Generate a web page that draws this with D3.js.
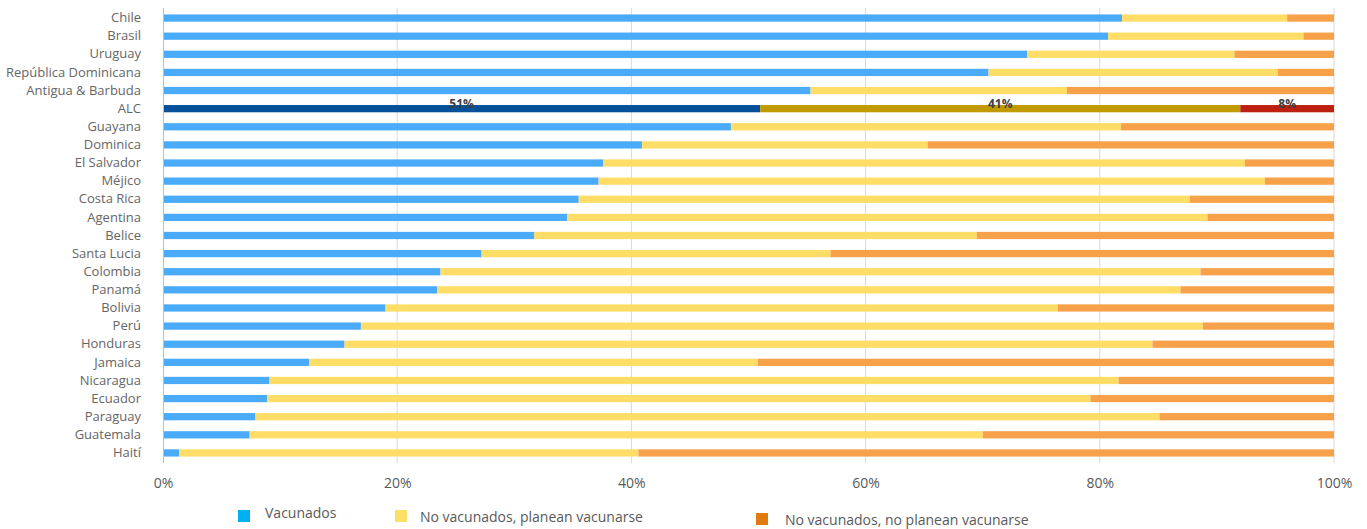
<!DOCTYPE html>
<html><head><meta charset="utf-8">
<script src="https://cdn.jsdelivr.net/npm/d3@7"></script>
<style>body{margin:0;background:#fff;} text{font-family:"Open Sans","Noto Sans",sans-serif;}</style>
</head><body><svg id="c" width="1367" height="529"></svg>
<script>
const countries = ["Chile","Brasil","Uruguay","República Dominicana","Antigua & Barbuda","ALC","Guayana","Dominica","El Salvador","Méjico","Costa Rica","Agentina","Belice","Santa Lucia","Colombia","Panamá","Bolivia","Perú","Honduras","Jamaica","Nicaragua","Ecuador","Paraguay","Guatemala","Haití"];
const vacunados = [81.9,80.7,73.8,70.5,55.3,51,48.5,40.9,37.6,37.2,35.5,34.5,31.7,27.2,23.7,23.4,19.0,16.9,15.5,12.5,9.1,8.9,7.9,7.4,1.4];
const planean = [14.1,16.7,17.7,24.7,21.9,41,33.3,24.4,54.8,56.9,52.2,54.7,37.8,29.8,64.9,63.5,57.4,71.9,69.0,38.3,72.5,70.3,77.2,62.6,39.2];
const noPlanean = vacunados.map((v,i)=>+(100-v-planean[i]).toFixed(1));
const xTicks = [0,20,40,60,80,100];
const seriesNames = ["Vacunados","No vacunados, planean vacunarse","No vacunados, no planean vacunarse"];
const colors = ["#4AABFB","#FFDD66","#F7A24A"];
const alcColors = ["#06509A","#C19A00","#BD1F10"];
const legendColors = ["#00B0F0","#FFE066","#E07B10"];

const svg = d3.select("#c");
const x = d3.scaleLinear().domain([0,100]).range([163,1334]);
const y = d3.scaleBand().domain(countries).range([9,462]).paddingInner(0.6).paddingOuter(0.3);

// gridlines
svg.append("g").selectAll("line").data(xTicks.slice(1)).join("line")
  .attr("x1",d=>x(d)).attr("x2",d=>x(d)).attr("y1",8).attr("y2",463)
  .attr("stroke","#D9D9D9").attr("stroke-width",1);

const stackData = countries.map((c,i)=>({c, v:[vacunados[i],planean[i],noPlanean[i]]}));
const g = svg.append("g");
stackData.forEach((d,i)=>{
  let acc=0;
  d.v.forEach((val,k)=>{
    g.append("rect").attr("x",x(acc)).attr("width",x(acc+val)-x(acc))
     .attr("y",y(d.c)).attr("height",y.bandwidth())
     .attr("fill", d.c==="ALC"?alcColors[k]:colors[k]);
    if(d.c==="ALC"){
      g.append("text").attr("x",x(acc+val/2)).attr("y",y(d.c)+3)
       .attr("text-anchor","middle").attr("font-size",12).attr("font-weight","bold")
       .attr("fill","#404040").text(Math.round(val)+"%");
    }
    acc+=val;
  });
});

// y axis line
svg.append("line").attr("x1",163.5).attr("x2",163.5).attr("y1",8).attr("y2",463).attr("stroke","#BFBFBF");

// y labels
const yAxis = d3.axisLeft(y).tickSize(0).tickPadding(22);
const ya = svg.append("g").attr("transform","translate(163,0)").call(yAxis);
ya.select(".domain").remove();
ya.selectAll("text").attr("font-size",13).attr("fill","#666666").style("font-family","'Open Sans',sans-serif");

// x axis labels
const xAxis = d3.axisBottom(x).tickValues(xTicks).tickFormat(d=>d+"%").tickSize(0).tickPadding(15);
const xa = svg.append("g").attr("transform","translate(0,463)").call(xAxis);
xa.select(".domain").remove();
xa.selectAll("text").attr("font-size",14).attr("fill","#595959").style("font-family","'Open Sans',sans-serif");

// legend
const legPos = [[238,510,265],[395,510,420],[756,513,785]];
seriesNames.forEach((n,i)=>{
  const [sx,sy,tx]=legPos[i];
  svg.append("rect").attr("x",sx).attr("y",sy).attr("width",12).attr("height",12).attr("fill",legendColors[i]);
  svg.append("text").attr("x",tx).attr("y",sy+ (i===0?8:12)).attr("font-size",14).attr("fill","#595959").text(n);
});
</script></body></html>
